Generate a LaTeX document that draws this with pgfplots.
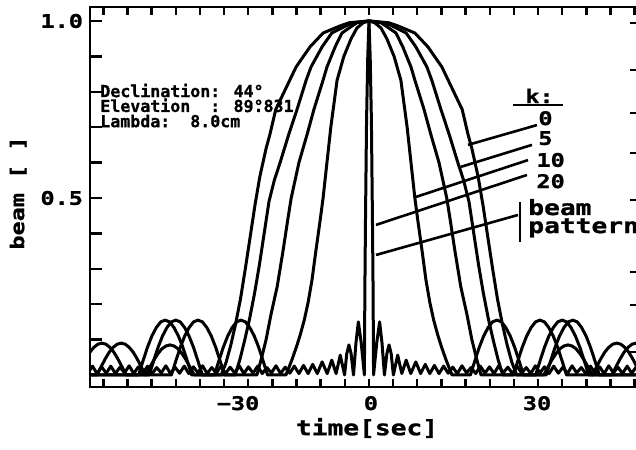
\documentclass[border=0pt]{standalone}
\usepackage{fontspec}
\usepackage{pgfplots}
\usepackage{pgfplotstable}
\pgfplotsset{compat=1.18}
\newfontfamily\plotfont[FakeStretch=1.25, FakeBold=1.2]{DejaVu Sans Mono}
\newfontfamily\notefont[FakeBold=0.8]{DejaVu Sans Mono}
\newcommand\tickfont{\plotfont\bfseries\fontsize{9.4}{10}\selectfont}
\newcommand\bigfont{\plotfont\bfseries\fontsize{10.5}{11}\selectfont}
\newcommand\annfont{\notefont\bfseries\fontsize{8.3}{9}\selectfont}

% half curves (t >= 0), mirrored for t < 0
\pgfplotstableread{
x y
0 1.0
4.1 0.995
6.0 0.986
9.5 0.966
12.2 0.927
15.1 0.87
17.2 0.81
19.3 0.75
20.5 0.68
21.3 0.64
22.6 0.56
23.6 0.48
24.6 0.39
25.6 0.30
26.6 0.215
27.6 0.145
28.6 0.085
29.6 0.035
30.6 0.0
36.70 0
37.62 0.040
38.53 0.078
39.45 0.110
40.37 0.134
41.28 0.150
42.20 0.155
43.12 0.150
44.03 0.134
44.95 0.110
45.87 0.078
46.78 0.040
47.70 0
58 0
}\tabA
\pgfplotstableread{
x y
0 1.0
3.3 0.995
4.8 0.986
7.7 0.966
9.7 0.927
12.0 0.87
13.0 0.833
14.9 0.75
16.6 0.68
18.4 0.60
19.6 0.55
20.7 0.49
21.7 0.40
22.7 0.31
23.7 0.23
24.7 0.16
25.7 0.10
26.7 0.045
27.7 0.0
34.50 0
35.42 0.040
36.33 0.078
37.25 0.110
38.17 0.134
39.08 0.150
40.00 0.155
40.92 0.150
41.83 0.134
42.75 0.110
43.67 0.078
44.58 0.040
45.50 0
50.30 0
51.13 0.023
51.97 0.045
52.80 0.064
53.63 0.078
54.47 0.087
55.30 0.090
56.13 0.087
56.97 0.078
57.80 0.064
58.63 0.045
59.47 0.023
60.30 0
}\tabB
\pgfplotstableread{
x y
0 1.0
2.5 0.995
3.5 0.986
5.6 0.966
7.0 0.927
8.7 0.87
9.5 0.833
11.4 0.75
12.8 0.68
14.5 0.60
16.1 0.50
16.8 0.44
17.8 0.35
19.0 0.25
20.3 0.17
21.3 0.10
22.2 0.05
23.2 0.0
29.90 0
30.82 0.040
31.73 0.078
32.65 0.110
33.57 0.134
34.48 0.150
35.40 0.155
36.32 0.150
37.23 0.134
38.15 0.110
39.07 0.078
39.98 0.040
40.90 0
46.30 0
47.13 0.023
47.97 0.045
48.80 0.064
49.63 0.078
50.47 0.087
51.30 0.090
52.13 0.087
52.97 0.078
53.80 0.064
54.63 0.045
55.47 0.023
56.30 0
58 0
}\tabC
\pgfplotstableread{
x y
0 1.0
1.2 0.995
2.5 0.98
3.7 0.95
5.2 0.90
6.6 0.833
7.9 0.70
8.7 0.60
9.5 0.50
10.1 0.438
11.0 0.35
11.8 0.268
12.6 0.205
13.4 0.155
14.2 0.115
15.0 0.08
15.9 0.045
16.6 0.02
17.2 0.0
21.00 0
21.92 0.040
22.83 0.078
23.75 0.110
24.67 0.134
25.58 0.150
26.50 0.155
27.42 0.150
28.33 0.134
29.25 0.110
30.17 0.078
31.08 0.040
32.00 0
36.20 0
37.03 0.022
37.87 0.0425
38.70 0.060
39.53 0.074
40.37 0.082
41.20 0.085
42.03 0.082
42.87 0.074
43.70 0.060
44.53 0.0425
45.37 0.022
46.20 0
58 0
}\tabD
\pgfplotstableread{
x y
0 1.0
0.25 0.90
0.5 0.72
0.72 0.44
0.85 0.24
0.95 0.0
1.6 0.09
2.2 0.15
2.7 0.09
3.2 0.0
3.7 0.06
4.15 0.085
4.6 0.06
5.05 0.0
5.95 0.056
6.8 0.004
7.7 0.042
8.65 0.004
9.7 0.037
10.7 0.004
11.65 0.030
12.6 0.004
13.55 0.027
14.5 0.004
15.45 0.025
16.4 0.005
17.35 0.022
18.3 0.004
19.25 0.026
20.2 0.006
21.15 0.021
22.1 0.004
23.05 0.025
24.0 0.005
24.95 0.023
25.9 0.004
26.85 0.026
27.8 0.006
28.75 0.022
29.7 0.004
30.65 0.025
31.6 0.005
32.55 0.021
33.5 0.004
34.45 0.026
35.4 0.006
36.35 0.023
37.3 0.004
38.25 0.025
39.2 0.005
40.15 0.022
41.1 0.004
42.05 0.026
43.0 0.006
43.95 0.021
44.9 0.004
45.85 0.025
46.8 0.005
47.75 0.023
48.7 0.004
49.65 0.026
50.6 0.006
51.55 0.022
52.5 0.004
53.45 0.025
54.4 0.005
55.35 0.023
56.3 0.004
57.25 0.025
58.2 0.005
}\tabBeam

\begin{document}
\begin{tikzpicture}
\pgfplotsset{
  frame/.style={
    scale only axis, width=274pt, height=190pt,
    xmin=-57.76, xmax=55.7, ymin=-0.0339, ymax=1.0395,
    axis line style={line width=1.3pt, black},
    tick align=inside,
  },
  curve/.style={black, line width=1.5pt, line join=round, no markers},
}
\begin{axis}[
  frame,
  ytick={0.1,0.2,0.3,0.4,0.5,0.6,0.7,0.8,0.9,1.0},
  yticklabels={,,,,0.5,,,,,1.0},
  ytick pos=left,
  major tick length=6pt,
  ytick style={line width=1.2pt, black},
  xtick={-27.1,0.4,34.8},
  xticklabels={−30,0,30},
  xtick pos=bottom,
  xtick style={draw=none},
  tick label style={font=\tickfont},
  xticklabel style={yshift=-1pt},
  xlabel={time[sec]},
  xlabel style={font=\bigfont, at={(axis description cs:0.5055,-0.108)}, anchor=center},
  ylabel={beam [ ]},
  ylabel style={font=\tickfont, at={(axis description cs:-0.131,0.5105)}, anchor=center},
]
\addplot[curve] table[x=x, y=y] {\tabA};
\addplot[curve] table[x expr=-\thisrow{x}, y=y] {\tabA};
\addplot[curve] table[x=x, y=y] {\tabB};
\addplot[curve] table[x expr=-\thisrow{x}, y=y] {\tabB};
\addplot[curve] table[x=x, y=y] {\tabC};
\addplot[curve] table[x expr=-\thisrow{x}, y=y] {\tabC};
\addplot[curve] table[x=x, y=y] {\tabD};
\addplot[curve] table[x expr=-\thisrow{x}, y=y] {\tabD};
\addplot[curve] table[x=x, y=y] {\tabBeam};
\addplot[curve] table[x expr=-\thisrow{x}, y=y] {\tabBeam};

% annotation text
\node[anchor=base west, inner sep=0pt, font=\annfont] at (axis cs:-55.7,0.785) {Declination: 44°};
\node[anchor=base west, inner sep=0pt, font=\annfont] at (axis cs:-55.7,0.743) {Elevation\ \ : 89\rlap{°}.831};
\node[anchor=base west, inner sep=0pt, font=\annfont] at (axis cs:-55.7,0.700) {Lambda:\ \ 8.0cm};

% k legend
\node[anchor=base west, inner sep=0pt, font=\tickfont] at (axis cs:32.3,0.768) {k:};
\draw[line width=1.3pt] (axis cs:29.8,0.763) -- (axis cs:40.2,0.763);
\node[anchor=base west, inner sep=0pt, font=\tickfont] at (axis cs:35.0,0.706) {0};
\node[anchor=base west, inner sep=0pt, font=\tickfont] at (axis cs:35.0,0.650) {5};
\node[anchor=base west, inner sep=0pt, font=\tickfont] at (axis cs:34.6,0.588) {10};
\node[anchor=base west, inner sep=0pt, font=\tickfont] at (axis cs:34.6,0.528) {20};
\node[anchor=base west, inner sep=0pt, font=\bigfont] at (axis cs:32.9,0.452) {beam};
\node[anchor=base west, inner sep=0pt, font=\bigfont] at (axis cs:32.9,0.401) {pattern};
\draw[line width=1.3pt] (axis cs:31.26,0.489) -- (axis cs:31.26,0.376);
\draw[line width=1.3pt] (axis cs:34.78,0.706) -- (axis cs:20.50,0.650);
\draw[line width=1.3pt] (axis cs:33.75,0.650) -- (axis cs:19.05,0.588);
\draw[line width=1.3pt] (axis cs:32.92,0.607) -- (axis cs:9.73,0.503);
\draw[line width=1.3pt] (axis cs:32.71,0.565) -- (axis cs:1.45,0.424);
\draw[line width=1.3pt] (axis cs:30.85,0.452) -- (axis cs:1.45,0.339);
\end{axis}

\begin{axis}[
  frame,
  xtick={-55,-50,...,55},
  xticklabels={},
  xtick pos=both,
  ytick={0.065,0.198,0.291,0.494,0.627,0.740,0.862,0.994},
  yticklabels={},
  ytick pos=right,
  major tick length=4pt,
  every tick/.style={line width=1.2pt, black},
]
\end{axis}

\pgfresetboundingbox
\path[use as bounding box] ([shift={(-45pt,-31.5pt)}]current axis.south west) rectangle ([shift={(-1pt,3.5pt)}]current axis.north east);
\end{tikzpicture}
\end{document}
